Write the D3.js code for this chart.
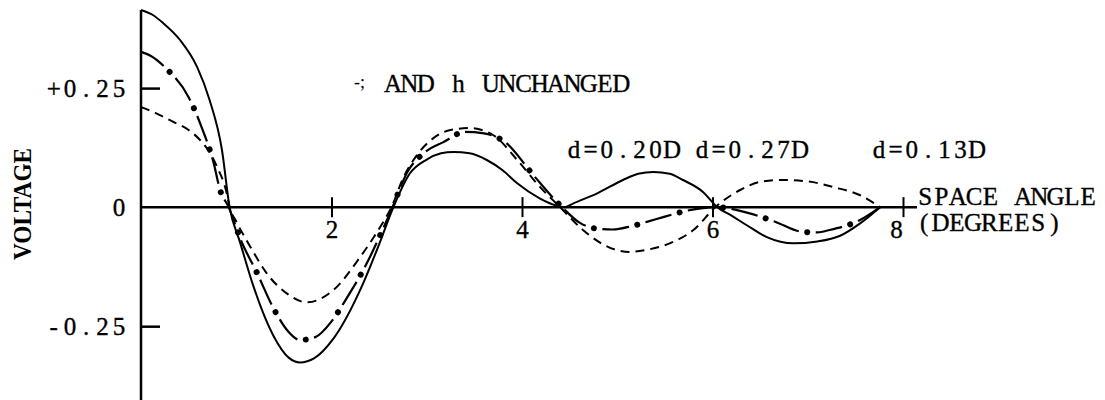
<!DOCTYPE html>
<html>
<head>
<meta charset="utf-8">
<script src="https://cdn.jsdelivr.net/npm/d3@7"></script>
<style>
  body { margin: 0; background: #fff; }
  svg text { font-family: "Liberation Serif", "Times New Roman", serif; fill: #000; }
</style>
</head>
<body>
<svg id="chart" width="1105" height="400"></svg>
<script>
// Axis ticks
const xTicks = [2, 4, 6, 8];
const yTicks = [0.25, 0, -0.25];
const yTickLabels = ["+0.25", "0", "-0.25"];

// Solid curve: space angle (degrees) and voltage
const solidX = [0, 0.12, 0.23, 0.41, 0.59, 0.72, 0.85, 0.93, 1.04, 1.18, 1.39, 1.55, 1.67, 1.82, 2.02, 2.33, 2.5, 2.65,
                2.82, 3.0, 3.15, 3.28, 3.45, 3.63, 3.8, 3.95, 4.19, 4.35, 4.45, 4.54, 4.79, 5.06, 5.22, 5.38, 5.55, 5.69, 5.9, 6.05,
                6.2, 6.36, 6.57, 6.85, 7.1, 7.34, 7.55, 7.76];
const solidY = [0.414, 0.404, 0.387, 0.351, 0.294, 0.225, 0.12, 0, -0.074, -0.166, -0.27, -0.316, -0.326, -0.317, -0.276, -0.161, -0.078, 0,
                0.07, 0.1, 0.113, 0.116, 0.113, 0.099, 0.077, 0.05, 0.018, 0.004, 0, 0.008, 0.029, 0.057, 0.07, 0.074, 0.07, 0.057, 0.032, 0,
                -0.018, -0.038, -0.063, -0.076, -0.072, -0.06, -0.034, 0];

// Dash-dot curve
const dashDotX = [0, 0.1, 0.27, 0.5, 0.64, 0.76, 0.83, 0.92, 1.05, 1.22, 1.39, 1.55, 1.67, 1.83, 2.0, 2.16, 2.37, 2.52, 2.64,
                  2.8, 2.98, 3.17, 3.4, 3.6, 3.82, 4.12, 4.42, 4.6, 4.75, 4.95, 5.15, 5.31, 5.5, 5.72, 5.9, 6.05,
                  6.15, 6.39, 6.65, 6.95, 7.1, 7.23, 7.55, 7.76];
const dashDotY = [0.326, 0.318, 0.29, 0.231, 0.166, 0.095, 0.036, 0, -0.07, -0.139, -0.212, -0.262, -0.279, -0.273, -0.24, -0.191, -0.118, -0.055, 0,
                  0.075, 0.115, 0.136, 0.158, 0.155, 0.137, 0.067, 0, -0.032, -0.044, -0.047, -0.04, -0.031, -0.02, -0.008, -0.002, 0,
                  -0.002, -0.013, -0.03, -0.052, -0.053, -0.048, -0.027, 0];

// Dashed curve
const dashedX = [0, 0.15, 0.34, 0.5, 0.62, 0.72, 0.8, 0.9, 0.93, 1.0, 1.15, 1.32, 1.53, 1.74, 2.02, 2.3, 2.51, 2.63,
                 2.75, 2.9, 3.07, 3.25, 3.45, 3.7, 3.95, 4.19, 4.4, 4.64, 4.99, 5.13, 5.3, 5.55, 5.8, 6.03,
                 6.29, 6.5, 6.71, 7.0, 7.27, 7.55, 7.76];
const dashedY = [0.21, 0.198, 0.179, 0.162, 0.141, 0.115, 0.084, 0.029, 0, -0.03, -0.084, -0.139, -0.181, -0.2, -0.174, -0.105, -0.042, 0,
                 0.06, 0.11, 0.145, 0.162, 0.166, 0.151, 0.099, 0.042, 0, -0.048, -0.09, -0.094, -0.09, -0.076, -0.048, 0,
                 0.036, 0.053, 0.057, 0.054, 0.042, 0.025, 0];

const PITCH = 16.3;   // typewriter character pitch
const FONT = 25;

const svg = d3.select("#chart");

const x = d3.scaleLinear().domain([0, 8]).range([141, 903]);
const y = d3.scaleLinear().domain([-0.405, 0.414]).range([400, 10]);

const line = d3.line()
  .x(d => x(d[0]))
  .y(d => y(d[1]))
  .curve(d3.curveMonotoneX);

const pairs = (xs, ys) => xs.map((v, i) => [v, ys[i]]);

// Place each character in a fixed-width cell, like a typewriter
function cellXs(str, x0) {
  return Array.from(str).map((c, i) => (x0 + PITCH * (i + 0.5)).toFixed(1)).join(" ");
}
function typeText(sel, str, x0, yBase, size) {
  return sel.text(str)
    .attr("x", cellXs(str, x0))
    .attr("y", yBase)
    .attr("text-anchor", "middle")
    .attr("font-size", size || FONT)
    .attr("stroke", "#000")
    .attr("stroke-width", 0.35);
}

// Axis lines
svg.append("line")
  .attr("x1", x(0)).attr("x2", x(0))
  .attr("y1", y(0.414)).attr("y2", 400)
  .attr("stroke", "#000").attr("stroke-width", 2.5);
svg.append("line")
  .attr("x1", x(0)).attr("x2", 917)
  .attr("y1", y(0)).attr("y2", y(0))
  .attr("stroke", "#000").attr("stroke-width", 2.5);

// Voltage axis: ticks point inward, labels to the left
const yAxis = svg.append("g")
  .attr("transform", `translate(${x(0)},0)`)
  .call(d3.axisLeft(y)
    .tickValues(yTicks)
    .tickFormat((d, i) => yTickLabels[i])
    .tickSizeInner(-19)
    .tickSizeOuter(0)
    .tickPadding(14));
yAxis.select(".domain").remove();
yAxis.selectAll(".tick line")
  .attr("stroke-width", 2.5)
  .filter(d => d === 0).remove();
yAxis.selectAll(".tick text").each(function(d, i) {
  const s = yTickLabels[i];
  typeText(d3.select(this), s, -14 - PITCH * s.length, 0, FONT)
    .attr("dy", "0.33em");
});

// Space-angle axis: ticks cross the line
const xAxis = svg.append("g")
  .attr("transform", `translate(0,${y(0)})`)
  .call(d3.axisBottom(x).tickValues(xTicks).tickSizeOuter(0));
xAxis.select(".domain").remove();
xAxis.selectAll(".tick line").attr("y1", -10).attr("y2", 10).attr("stroke-width", 2);
xAxis.selectAll(".tick text")
  .attr("font-size", FONT)
  .attr("stroke", "#000").attr("stroke-width", 0.35)
  .attr("x", d => d === 8 ? -7 : 0)
  .attr("y", 31).attr("dy", 0);

// Curves
svg.append("path")
  .attr("d", line(pairs(solidX, solidY)))
  .attr("fill", "none").attr("stroke", "#000").attr("stroke-width", 2);

svg.append("path")
  .attr("d", line(pairs(dashedX, dashedY)))
  .attr("fill", "none").attr("stroke", "#000").attr("stroke-width", 2)
  .attr("stroke-dasharray", "9,6");

const ddPath = line(pairs(dashDotX, dashDotY));
svg.append("path")
  .attr("d", ddPath)
  .attr("fill", "none").attr("stroke", "#000").attr("stroke-width", 2.2)
  .attr("stroke-dasharray", "27,17");
svg.append("path")
  .attr("d", ddPath)
  .attr("fill", "none").attr("stroke", "#000").attr("stroke-width", 6)
  .attr("stroke-linecap", "round")
  .attr("stroke-dasharray", "0.01,43.99")
  .attr("stroke-dashoffset", 8.5);

// Annotations
const ann = svg.append("g");
ann.append("text").attr("x", 354).attr("y", 88).attr("font-size", 18).attr("fill", "#222").text("-;");
typeText(ann.append("text"), "AND h UNCHANGED", 385, 92);
typeText(ann.append("text"), "d=0.20D", 566, 158);
typeText(ann.append("text"), "d=0.27D", 694, 158);
typeText(ann.append("text"), "d=0.13D", 871, 158);
typeText(ann.append("text"), "SPACE ANGLE", 917, 205);
typeText(ann.append("text"), "(DEGREES)", 916, 231);

// Vertical axis title
svg.append("text")
  .attr("transform", "translate(31,204) rotate(-90)")
  .attr("text-anchor", "middle")
  .attr("font-weight", "bold")
  .attr("font-size", 25)
  .attr("textLength", 112)
  .attr("lengthAdjust", "spacingAndGlyphs")
  .text("VOLTAGE");
</script>
</body>
</html>
